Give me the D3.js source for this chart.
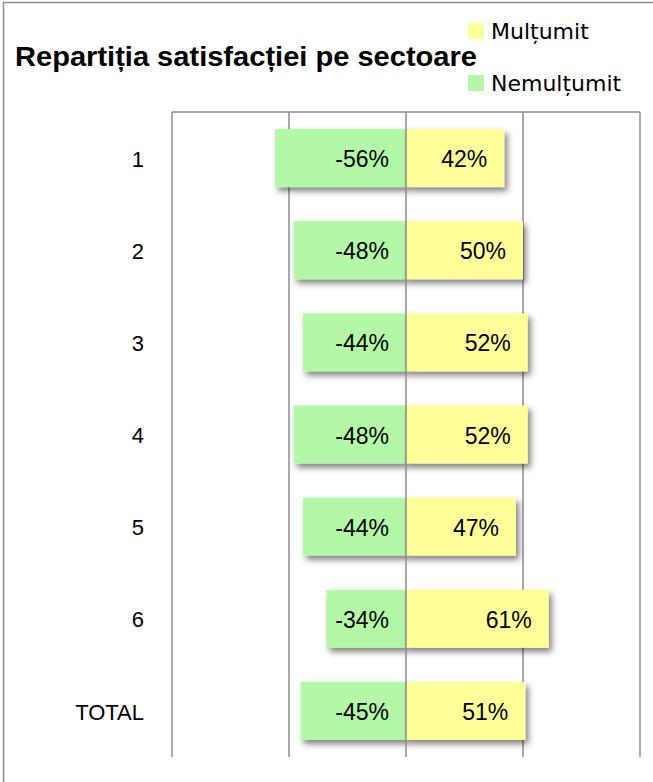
<!DOCTYPE html>
<html>
<head>
<meta charset="utf-8">
<script src="https://cdn.jsdelivr.net/npm/d3@7"></script>
<style>
  body { margin: 0; background: #fff; }
  text { font-family: "Liberation Sans", Arial, sans-serif; fill: #000; }
</style>
</head>
<body>
<div id="chart"></div>
<script>
var categories = ["1", "2", "3", "4", "5", "6", "TOTAL"];
var nemultumit = [-56, -48, -44, -48, -44, -34, -45];
var multumit = [42, 50, 52, 52, 47, 61, 51];
var gridTicks = [-100, -50, 0, 50, 100];

var W = 653, H = 782;
var margin = {top: 112, right: 13, bottom: 25, left: 172},
    width = W - margin.left - margin.right,
    height = H - margin.top - margin.bottom;

var svg = d3.select("#chart").append("svg")
    .attr("width", W).attr("height", H);

var defs = svg.append("defs");
var f = defs.append("filter").attr("id", "shadow")
    .attr("x", "-10%").attr("y", "-20%").attr("width", "130%").attr("height", "160%");
f.append("feDropShadow").attr("dx", 3).attr("dy", 4).attr("stdDeviation", 3)
    .attr("flood-color", "#000").attr("flood-opacity", 0.5);

// outer frame
svg.append("rect").attr("x", 3.5).attr("y", 2.5).attr("width", 700).attr("height", 900)
    .attr("fill", "none").attr("stroke", "#8c8c8c").attr("stroke-width", 1.5);

var g = svg.append("g").attr("transform", "translate(" + margin.left + "," + margin.top + ")");

var x = d3.scaleLinear().domain([-100, 100]).range([0, width]);
var y = d3.scaleBand().domain(categories).range([0, height]).paddingInner(0.37).paddingOuter(0.185);

// gridlines (behind)
g.selectAll(".grid").data(gridTicks.filter(d => d !== 0)).enter().append("line")
    .attr("x1", d => x(d)).attr("x2", d => x(d))
    .attr("y1", 0).attr("y2", height)
    .attr("stroke", "#8c8c8c").attr("stroke-width", 1.5);
g.append("line").attr("x1", x(-100)).attr("x2", x(100)).attr("y1", 0).attr("y2", 0)
    .attr("stroke", "#8c8c8c").attr("stroke-width", 1.5);

var rows = categories.map((c, i) => ({cat: c, neg: nemultumit[i], pos: multumit[i]}));

g.selectAll(".neg").data(rows).enter().append("rect")
    .attr("x", d => x(d.neg)).attr("y", d => y(d.cat))
    .attr("width", d => x(0) - x(d.neg)).attr("height", y.bandwidth())
    .attr("fill", "#b3f8a6").attr("filter", "url(#shadow)");

g.selectAll(".pos").data(rows).enter().append("rect")
    .attr("x", x(0)).attr("y", d => y(d.cat))
    .attr("width", d => x(d.pos) - x(0)).attr("height", y.bandwidth())
    .attr("fill", "#ffff99").attr("filter", "url(#shadow)");

// zero axis on top
g.append("line").attr("x1", x(0)).attr("x2", x(0)).attr("y1", 0).attr("y2", height)
    .attr("stroke", "#8c8c8c").attr("stroke-width", 1.5);

// value labels
g.selectAll(".negLabel").data(rows).enter().append("text")
    .attr("x", x(0) - 17).attr("y", d => y(d.cat) + y.bandwidth() / 2 + 1)
    .attr("dy", "0.35em").attr("text-anchor", "end")
    .attr("font-size", 23).text(d => d.neg + "%");

g.selectAll(".posLabel").data(rows).enter().append("text")
    .attr("x", d => x(d.pos) - 17).attr("y", d => y(d.cat) + y.bandwidth() / 2 + 1)
    .attr("dy", "0.35em").attr("text-anchor", "end")
    .attr("font-size", 23).text(d => d.pos + "%");

// category labels
g.selectAll(".cat").data(rows).enter().append("text")
    .attr("x", -28).attr("y", d => y(d.cat) + y.bandwidth() / 2 + 1)
    .attr("dy", "0.35em").attr("text-anchor", "end")
    .attr("font-size", 22).text(d => d.cat);

// title
svg.append("text").attr("x", 15).attr("y", 66)
    .attr("font-size", 28).attr("font-weight", "bold")
    .attr("textLength", 462).attr("lengthAdjust", "spacingAndGlyphs")
    .text("Repartiția satisfacției pe sectoare");

// legend
var legend = [{name: "Mulțumit", color: "#ffff99", y: 23}, {name: "Nemulțumit", color: "#b3f8a6", y: 75}];
var lg = svg.selectAll(".lg").data(legend).enter().append("g");
lg.append("rect").attr("x", 468).attr("y", d => d.y).attr("width", 16).attr("height", 16)
    .attr("fill", d => d.color);
lg.append("text").attr("x", 491).attr("y", d => d.y + 15.5)
    .style("font-family", "'DejaVu Sans', sans-serif")
    .attr("font-size", 22).text(d => d.name);
</script>
</body>
</html>
